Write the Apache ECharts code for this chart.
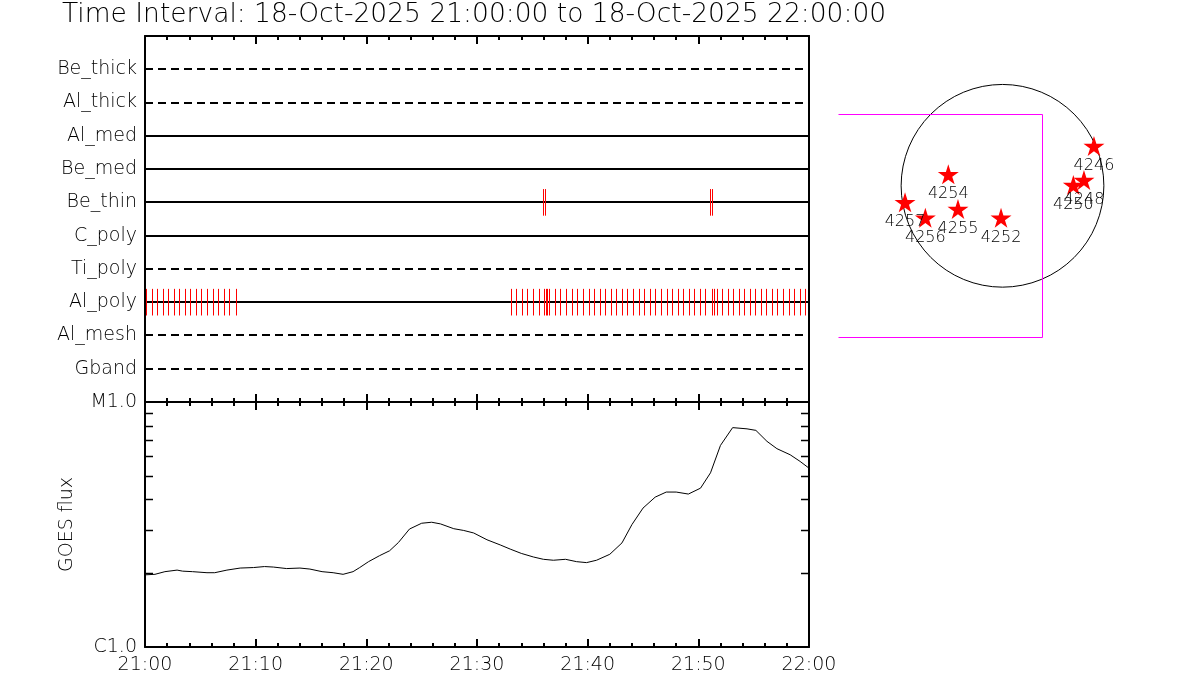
<!DOCTYPE html>
<html><head><meta charset="utf-8">
<script src="https://cdn.jsdelivr.net/npm/echarts@6/dist/echarts.min.js"></script>
<style>html,body{margin:0;padding:0;background:#fff}#c{width:1200px;height:700px}</style>
</head><body><div id="c"></div>
<script>
const titleText = 'Time Interval: 18-Oct-2025 21:00:00 to 18-Oct-2025 22:00:00';
const rowNames = ['Be_thick','Al_thick','Al_med','Be_med','Be_thin','C_poly','Ti_poly','Al_poly','Al_mesh','Gband'];
const rowDashed = [true,true,false,false,false,false,true,false,true,true];
const beThinTimes = [35.99, 36.14, 51.07, 51.25];
const alPolyTimes = [0.1,0.6,1.1,1.6,2.1,2.6,3.1,3.6,4.1,4.6,5.1,5.6,6.1,6.6,7.1,7.6,8.2,
  33.04,33.52,34.04,34.54,35.06,35.57,36.08,36.23,36.32,36.53,37.05,37.53,38.07,38.58,39.06,39.58,
  40.09,40.60,41.09,41.59,42.08,42.59,43.10,43.58,44.09,44.61,45.12,45.60,46.11,46.62,47.14,47.62,
  48.13,48.61,49.13,49.63,50.15,50.63,51.21,51.39,51.66,52.14,52.65,53.13,53.65,54.15,54.64,55.15,
  55.66,56.14,56.66,57.14,57.65,58.16,58.66,59.15,59.66];
const goesMinutes = [0,0.9,1.8,2.9,3.4,4.3,5.6,6.3,7.4,8.6,9.8,10.8,11.6,12.8,14.0,14.9,16.0,17.0,17.9,18.8,
  19.4,20.2,21.2,22.1,22.9,23.9,25.0,25.9,26.7,27.9,28.8,29.7,30.9,32.1,33.0,34.0,35.1,36.0,36.9,38.0,
  39.0,39.9,40.8,42.0,43.1,44.0,45.0,46.1,47.1,48.0,49.1,50.2,51.1,52.0,53.1,54.4,55.2,56.2,57.1,58.3,59.2,60.0];
const goesFlux = [1.97,1.98,2.03,2.06,2.04,2.03,2.01,2.01,2.06,2.10,2.11,2.13,2.12,2.09,2.10,2.08,2.03,2.01,1.98,2.03,
  2.11,2.23,2.36,2.47,2.67,3.03,3.20,3.23,3.18,3.04,2.99,2.92,2.74,2.61,2.51,2.41,2.33,2.28,2.26,2.28,
  2.23,2.21,2.26,2.39,2.66,3.16,3.69,4.09,4.29,4.29,4.21,4.45,5.14,6.65,7.86,7.77,7.66,6.91,6.45,6.09,5.72,5.37]; // x 1e-6 W/m^2
const goesMinorTicks = [2,3,4,5,6,7,8,9]; // x 1e-6
const timeLabels = ['21:00','21:10','21:20','21:30','21:40','21:50','22:00'];
const fluxTickLabels = ['C1.0','M1.0'];
const regionIds = ['4254','4257','4256','4255','4252','4246','4248','4250'];
const regionX = [-515,-926,-733,-423,-14,869,774,673];
const regionY = [109,-157,-303,-220,-303,378,55,8];
const sunRadius = 963;
const fovX = [-1560, 378];
const fovY = [-1436, 679];

const FONT = 'DejaVu Sans';
const FW = 200;
const T0 = 0, T1 = 60;
const chart = echarts.init(document.getElementById('c'), null, {renderer:'canvas'});

function timeAxis(gridIndex, position, labels) {
  return {type:'value', gridIndex, position, min:T0, max:T1, interval:10,
    splitLine:{show:false},
    axisLine:{show:true, onZero:false, lineStyle:{color:'#000', width:2}},
    axisTick:{show:true, inside:true, length:8, lineStyle:{color:'#000', width:2}},
    minorTick:{show:true, splitNumber:5, length:4, lineStyle:{color:'#000', width:2}},
    axisLabel:{show:labels, color:'#000', fontSize:19, fontWeight:FW, fontFamily:FONT, margin:9,
      formatter: v => timeLabels[Math.round(v/10)] || ''}};
}
function plainY(gridIndex, position, min, max) {
  return {type:'value', gridIndex, position, min, max, splitLine:{show:false},
    axisLine:{show:true, onZero:false, lineStyle:{color:'#000', width:2}},
    axisTick:{show:false}, axisLabel:{show:false}};
}
const crisp = x => Math.round(x) + 0.5;

const marks = beThinTimes.map(t => [t, rowNames.indexOf('Be_thin') + 1])
  .concat(alPolyTimes.map(t => [t, rowNames.indexOf('Al_poly') + 1]));

const starPath = 'path://M50,0 L61,35 L98,35 L68,57 L79,91 L50,70 L21,91 L32,57 L2,35 L39,35 Z';

chart.setOption({
  animation:false,
  backgroundColor:'#fff',
  title:{text:titleText, left:62, top:2, padding:0,
    textStyle:{fontSize:26.5, fontWeight:FW, color:'#000', fontFamily:FONT}},
  grid:[
    {left:145, top:36, width:664, height:366},
    {left:145, top:402, width:664, height:245},
    {left:838.3, top:27.9, width:328.4, height:315.8}
  ],
  xAxis:[
    timeAxis(0,'bottom',false),
    timeAxis(0,'top',false),
    timeAxis(1,'bottom',true),
    timeAxis(1,'top',false),
    {type:'value', gridIndex:2, min:-1560, max:1560, show:false}
  ],
  yAxis:[
    {type:'value', gridIndex:0, position:'left', min:0, max:11, interval:1, inverse:true,
      splitLine:{show:false}, axisTick:{show:false},
      axisLine:{show:true, onZero:false, lineStyle:{color:'#000', width:2}},
      axisLabel:{show:true, color:'#000', fontSize:19, fontWeight:FW, fontFamily:FONT, margin:8,
        formatter: v => rowNames[v-1] || ''}},
    plainY(0,'right',0,11),
    {type:'value', gridIndex:1, position:'left', min:-6, max:-5, interval:1,
      splitLine:{show:false},
      axisLine:{show:true, onZero:false, lineStyle:{color:'#000', width:2}},
      axisTick:{show:true, inside:true, length:8, lineStyle:{color:'#000', width:2}},
      axisLabel:{show:true, color:'#000', fontSize:19, fontWeight:FW, fontFamily:FONT, margin:8,
        formatter: v => fluxTickLabels[Math.round(v) + 6] || ''},
      name:'GOES flux', nameLocation:'middle', nameGap:68, nameRotate:90,
      nameTextStyle:{color:'#000', fontSize:19, fontWeight:FW, fontFamily:FONT}},
    plainY(1,'right',-6,-5),
    {type:'value', gridIndex:2, min:-1500, max:1500, show:false}
  ],
  series:[
    {type:'custom', xAxisIndex:0, yAxisIndex:0, silent:true, clip:false, z:2,
      data: rowNames.map((n,i) => [i+1, rowDashed[i] ? 1 : 0]),
      renderItem:(p, api) => {
        const r = api.value(0);
        const a = api.coord([T0, r]), b = api.coord([T1, r]);
        return {type:'line', shape:{x1:a[0], y1:Math.round(a[1]), x2:b[0], y2:Math.round(b[1])},
          style:{stroke:'#000', lineWidth:2, lineDash: api.value(1) ? [8,5] : null}};
      }},
    {type:'custom', xAxisIndex:0, yAxisIndex:0, silent:true, clip:false, z:3,
      data: marks,
      renderItem:(p, api) => {
        const t = api.value(0), r = api.value(1);
        const a = api.coord([t, r - 0.4]), b = api.coord([t, r + 0.4]);
        const x = crisp(a[0]);
        return {type:'line', shape:{x1:x, y1:a[1], x2:x, y2:b[1]},
          style:{stroke:'#ff0000', lineWidth:1}};
      }},
    {type:'line', xAxisIndex:2, yAxisIndex:2, showSymbol:false, silent:true,
      data: goesMinutes.map((t,i) => [t, Math.log10(goesFlux[i] * 1e-6)]),
      lineStyle:{color:'#000', width:1}},
    {type:'custom', xAxisIndex:2, yAxisIndex:2, silent:true, clip:false,
      data: goesMinorTicks.map(v => [T0, Math.log10(v * 1e-6)]),
      renderItem:(p, api) => {
        const y = api.value(1);
        const l = api.coord([T0, y]), r = api.coord([T1, y]);
        const yy = crisp(l[1]);
        return {type:'group', children:[
          {type:'line', shape:{x1:l[0], y1:yy, x2:l[0]+8, y2:yy}, style:{stroke:'#000', lineWidth:1.5}},
          {type:'line', shape:{x1:r[0]-8, y1:yy, x2:r[0], y2:yy}, style:{stroke:'#000', lineWidth:1.5}}
        ]};
      }},
    {type:'custom', xAxisIndex:4, yAxisIndex:4, silent:true, clip:false,
      data:[[0,0]],
      renderItem:(p, api) => {
        const c = api.coord([api.value(0), api.value(1)]);
        const r = api.size([sunRadius, 0])[0];
        return {type:'circle', shape:{cx:c[0], cy:c[1], r}, style:{fill:null, stroke:'#000', lineWidth:1}};
      }},
    {type:'custom', xAxisIndex:4, yAxisIndex:4, silent:true, clip:false,
      data:[[fovX[0], fovX[1], fovY[0], fovY[1]]],
      renderItem:(p, api) => {
        const tl = api.coord([api.value(0), api.value(3)]);
        const tr = api.coord([api.value(1), api.value(3)]);
        const br = api.coord([api.value(1), api.value(2)]);
        const bl = api.coord([api.value(0), api.value(2)]);
        const pts = [tl, tr, br, bl].map(q => [crisp(q[0]), crisp(q[1])]);
        return {type:'polyline', shape:{points:pts}, style:{fill:null, stroke:'#ff00ff', lineWidth:1}};
      }},
    {type:'scatter', xAxisIndex:4, yAxisIndex:4, silent:true,
      symbol:starPath, symbolSize:21, symbolKeepAspect:true,
      itemStyle:{color:'#ff0000', opacity:1},
      data: regionIds.map((id,i) => ({value:[regionX[i], regionY[i]], name:id})),
      label:{show:true, position:'bottom', distance:2, formatter: p => p.name,
        color:'#000', fontSize:16, fontWeight:FW, fontFamily:FONT}}
  ]
});
</script></body></html>
